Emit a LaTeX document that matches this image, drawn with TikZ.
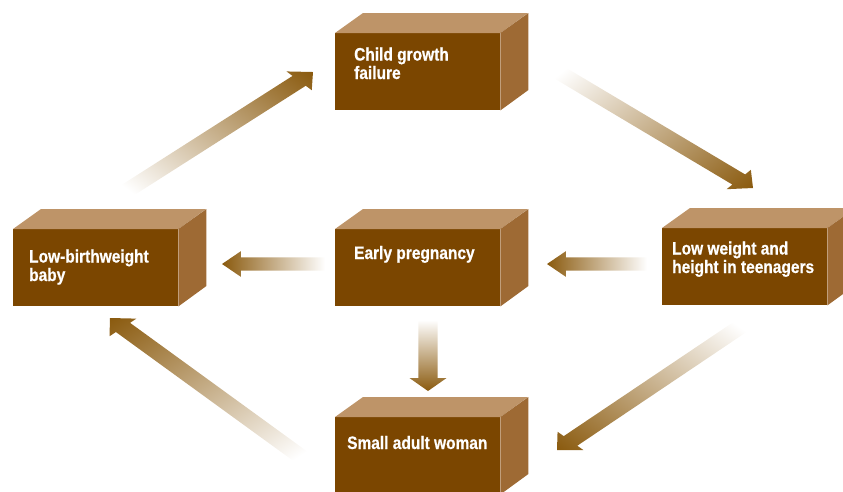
\documentclass[tikz,border=0pt]{standalone}
\usepackage{fontspec}
\newfontfamily\boxfont[FakeStretch=0.86,FakeBold=0.6]{Liberation Sans}
\usetikzlibrary{calc}
\definecolor{boxfront}{RGB}{123,70,0}
\definecolor{boxtop}{RGB}{190,148,104}
\definecolor{boxside}{RGB}{158,106,52}
\definecolor{arrowbrown}{RGB}{138,90,14}
\newcommand\growarrow[2]{%
    \path let \p1=(#1), \p2=(#2) in \pgfextra{%
        \pgfmathsetmacro\arrx{\x1/1.45}%
        \pgfmathsetmacro\arry{\y1}%
        \pgfmathsetmacro\arrdx{(\x2-\x1)/1.45}%
        \pgfmathsetmacro\arrdy{\y2-\y1}%
        \pgfmathsetmacro\arrang{atan2(\arrdy,\arrdx)}%
        \pgfmathsetmacro\arrlen{veclen(\arrdx,\arrdy)}%
        \xdef\arrx{\arrx}\xdef\arry{\arry}\xdef\arrang{\arrang}\xdef\arrlen{\arrlen}};
    \begin{scope}[transform canvas={xscale=1.45,shift={(\arrx pt,\arry pt)},rotate=\arrang}]
        \shade[left color=white, right color=arrowbrown] (0pt,-6.7pt) -- ({\arrlen pt-13pt},-6.7pt) -- ({\arrlen pt-13pt},-12.8pt)
            -- (\arrlen pt,0pt) -- ({\arrlen pt-13pt},12.8pt) -- ({\arrlen pt-13pt},6.7pt) -- (0pt,6.7pt) -- cycle;
    \end{scope}}

\begin{document}
\begin{tikzpicture}[x=1pt,y=-1pt,
        box/.style={fill=boxfront, anchor=north west, minimum width=165pt, minimum height=77pt, inner sep=0pt},
        boxtext/.style={anchor=base west, text=white, align=left, inner sep=0pt, font=\boxfont\bfseries\fontsize{18}{18.5}\selectfont}]
        \clip (0,0) rectangle (843,491);
        \node[box] (cgf) at (335,33) {};
        \node[box] (lbw) at (13,229) {};
        \node[box] (early) at (335,229) {};
        \node[box] (teen) at (662,228) {};
        \node[box] (woman) at (335,417) {};
        \foreach \bx in {cgf,lbw,early,teen,woman}{
            \fill[boxtop] (\bx.north west) -- ++(28,-20) -- ++(165,0) -- (\bx.north east) -- cycle;
            \fill[boxside] (\bx.north east) -- ++(28,-20) -- ++(0,77) -- (\bx.south east) -- cycle;
        }
        \node[boxtext] (cgf-text) at ($(cgf.north west)+(19,46)$) {Child growth\\failure};
        \node[boxtext] (lbw-text) at ($(lbw.north west)+(16,52)$) {Low-birthweight\\baby};
        \node[boxtext] (early-text) at ($(early.north west)+(19,30)$) {Early pregnancy};
        \node[boxtext] (teen-text) at ($(teen.north west)+(10,45)$) {Low weight and\\height in teenagers};
        \node[boxtext] (woman-text) at ($(woman.north west)+(12,32)$) {Small adult woman};
        \coordinate (lbw-out) at (128,190);
        \coordinate (cgf-in) at (313,72);
        \coordinate (cgf-out) at (560,73);
        \coordinate (teen-in) at (753,188);
        \coordinate (teen-out) at (647,264);
        \coordinate (early-in) at (547,264);
        \coordinate (early-out) at (325,264);
        \coordinate (lbw-in) at (222,264);
        \coordinate (early-down) at (428,320);
        \coordinate (woman-in) at (428,391);
        \coordinate (teen-down) at (740,327);
        \coordinate (woman-right) at (557,450);
        \coordinate (woman-out) at (300,456);
        \coordinate (lbw-up) at (110,318);
        \growarrow{lbw-out}{cgf-in}
        \growarrow{cgf-out}{teen-in}
        \growarrow{teen-out}{early-in}
        \growarrow{early-out}{lbw-in}
        \growarrow{early-down}{woman-in}
        \growarrow{teen-down}{woman-right}
        \growarrow{woman-out}{lbw-up}
    \end{tikzpicture}
\end{document}
